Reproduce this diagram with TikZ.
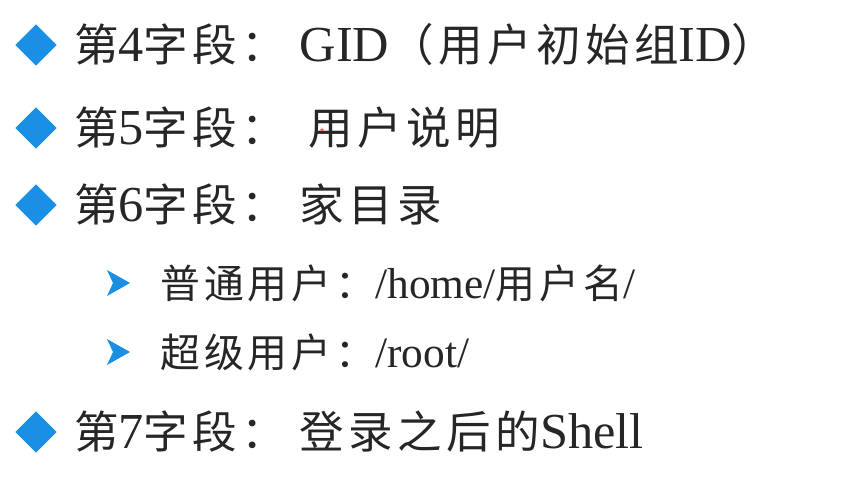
\documentclass[tikz,border=0pt]{standalone}
\usepackage{fontspec}
\setmainfont{Liberation Serif}
\newfontfamily\cjk[LetterSpace=10]{Noto Sans CJK SC}
\newcommand{\lat}[1]{{\rmfamily\fontsize{43}{44}\selectfont #1}}
\newcommand{\latsub}[1]{{\rmfamily\fontsize{37}{40}\selectfont #1}}
\usetikzlibrary{shapes.geometric}
\definecolor{bulletblue}{HTML}{1A8FE3}
\tikzset{
  mainitem/.style={anchor=west, inner sep=0pt, font=\cjk\fontsize{38}{40}\selectfont, text=black!85},
  subitem/.style={anchor=west, inner sep=0pt, font=\cjk\fontsize{34}{36}\selectfont, text=black!85},
  diam/.style={diamond, fill=bulletblue, minimum size=1.25cm, inner sep=0pt},
}
\begin{document}
\begin{tikzpicture}[x=0.03cm, y=-0.03cm]
\useasboundingbox (0,0) rectangle (867,493);
% main bullets
\foreach \y/\name in {45/a, 128/b, 205/c, 432/f} {
  \node[diam] (d\name) at (36,\y) {};
}
\node[mainitem] (ta) at (74,45) {第\lat{4}字段：\hspace{0.3em}\lat{GID}（用户初始组\lat{ID}）};
\node[mainitem] (tb) at (74,128) {第\lat{5}字段：\hspace{0.5em}用户说明};
\node[mainitem] (tc) at (74,205) {第\lat{6}字段：\hspace{0.3em}家目录};
\node[mainitem] (tf) at (74,432) {第\lat{7}字段：\hspace{0.3em}登录之后的\lat{Shell}};
% small red mark
\node[text=red, font=\footnotesize\bfseries, inner sep=0pt] (mark) at (322,131) {+};
% sub bullets
\foreach \y/\name in {283/d, 352/e} {
  \fill[bulletblue] (107,\y-13) -- (130,\y) -- (107,\y+13) -- (113,\y) -- cycle;
}
\node[subitem] (td) at (160,283) {普通用户：\latsub{/home/}用户名\latsub{/}};
\node[subitem] (te) at (160,352) {超级用户：\latsub{/root/}};
\end{tikzpicture}
\end{document}
